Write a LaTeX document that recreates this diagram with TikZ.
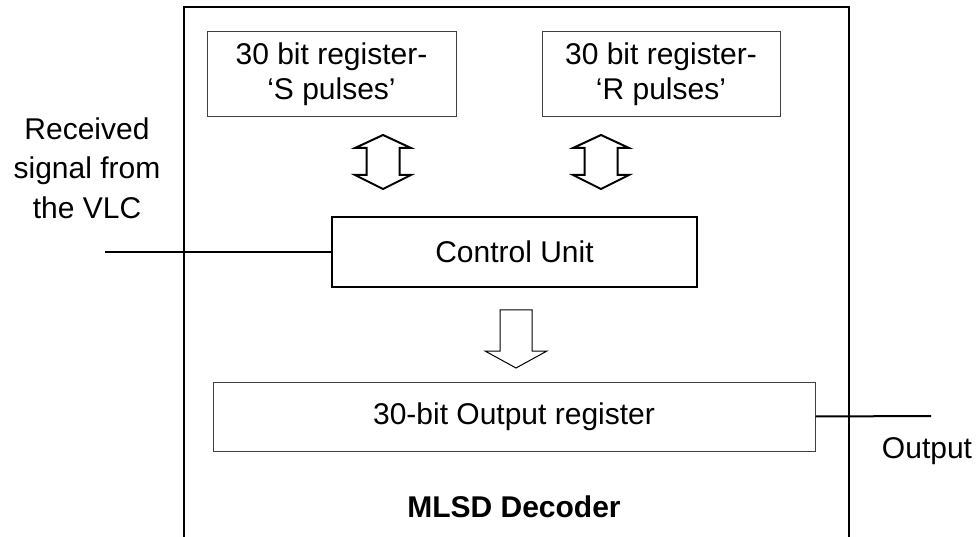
\documentclass[tikz,border=0pt]{standalone}
\usepackage{fontspec}
\setmainfont{Liberation Sans}
\begin{document}
\begin{tikzpicture}[x=1pt,y=-1pt,
  txt/.style={font=\fontsize{30}{35}\selectfont, align=center, inner sep=0pt},
  regbox/.style={draw=black!75, line width=1pt, txt},
  ctrlbox/.style={draw=black, line width=2pt, txt},
  blockarrow/.style={draw=black, line width=2pt, line join=miter},
  thinarrow/.style={draw=black, line width=1pt, line join=miter},
  wire/.style={draw=black, line width=2pt}
]
\useasboundingbox (0,0) rectangle (977,537);
% outer box (open at bottom, continues past frame)
\draw[line width=1.3pt] (184,537) -- (184,7) -- (849,7) -- (849,537);

\node[regbox, minimum width=249pt, minimum height=85pt] (sreg) at (331.5,74.5) {30 bit register-\\‘S pulses’};
\node[regbox, minimum width=238pt, minimum height=85pt] (rreg) at (661,74.5) {30 bit register-\\‘R pulses’};
\node[ctrlbox, minimum width=365pt, minimum height=70pt] (ctrl) at (514.5,252) {Control Unit};
\node[regbox, minimum width=602pt, minimum height=69pt] (oreg) at (514,416.5) {30-bit Output register};

\node[txt, font=\fontsize{30}{39.5}\selectfont] (rxlabel) at (87,168) {Received\\signal from\\the VLC};
\node[txt] (outlabel) at (927,451) {Output};
\node[txt, font=\fontsize{30}{35}\selectfont\bfseries] (title) at (514,507) {MLSD Decoder};

\coordinate (in) at (105,252);
\coordinate (out) at (931,416);
\draw[wire] (in) -- (ctrl.west);
\draw[wire] (oreg.east) -- (out);

% double block arrows
\foreach \cx/\nm in {383/sarr, 601/rarr}{
  \draw[blockarrow] (\cx,135) -- (\cx+28,148) -- (\cx+16.5,148) -- (\cx+16.5,175) -- (\cx+28,175)
    -- (\cx,189) -- (\cx-28,175) -- (\cx-16.5,175) -- (\cx-16.5,148) -- (\cx-28,148) -- cycle;
}
% down block arrow
\draw[thinarrow] (500,310) -- (532,310) -- (532,351) -- (547,351) -- (516,368) -- (485,351) -- (500,351) -- cycle;
\end{tikzpicture}
\end{document}
